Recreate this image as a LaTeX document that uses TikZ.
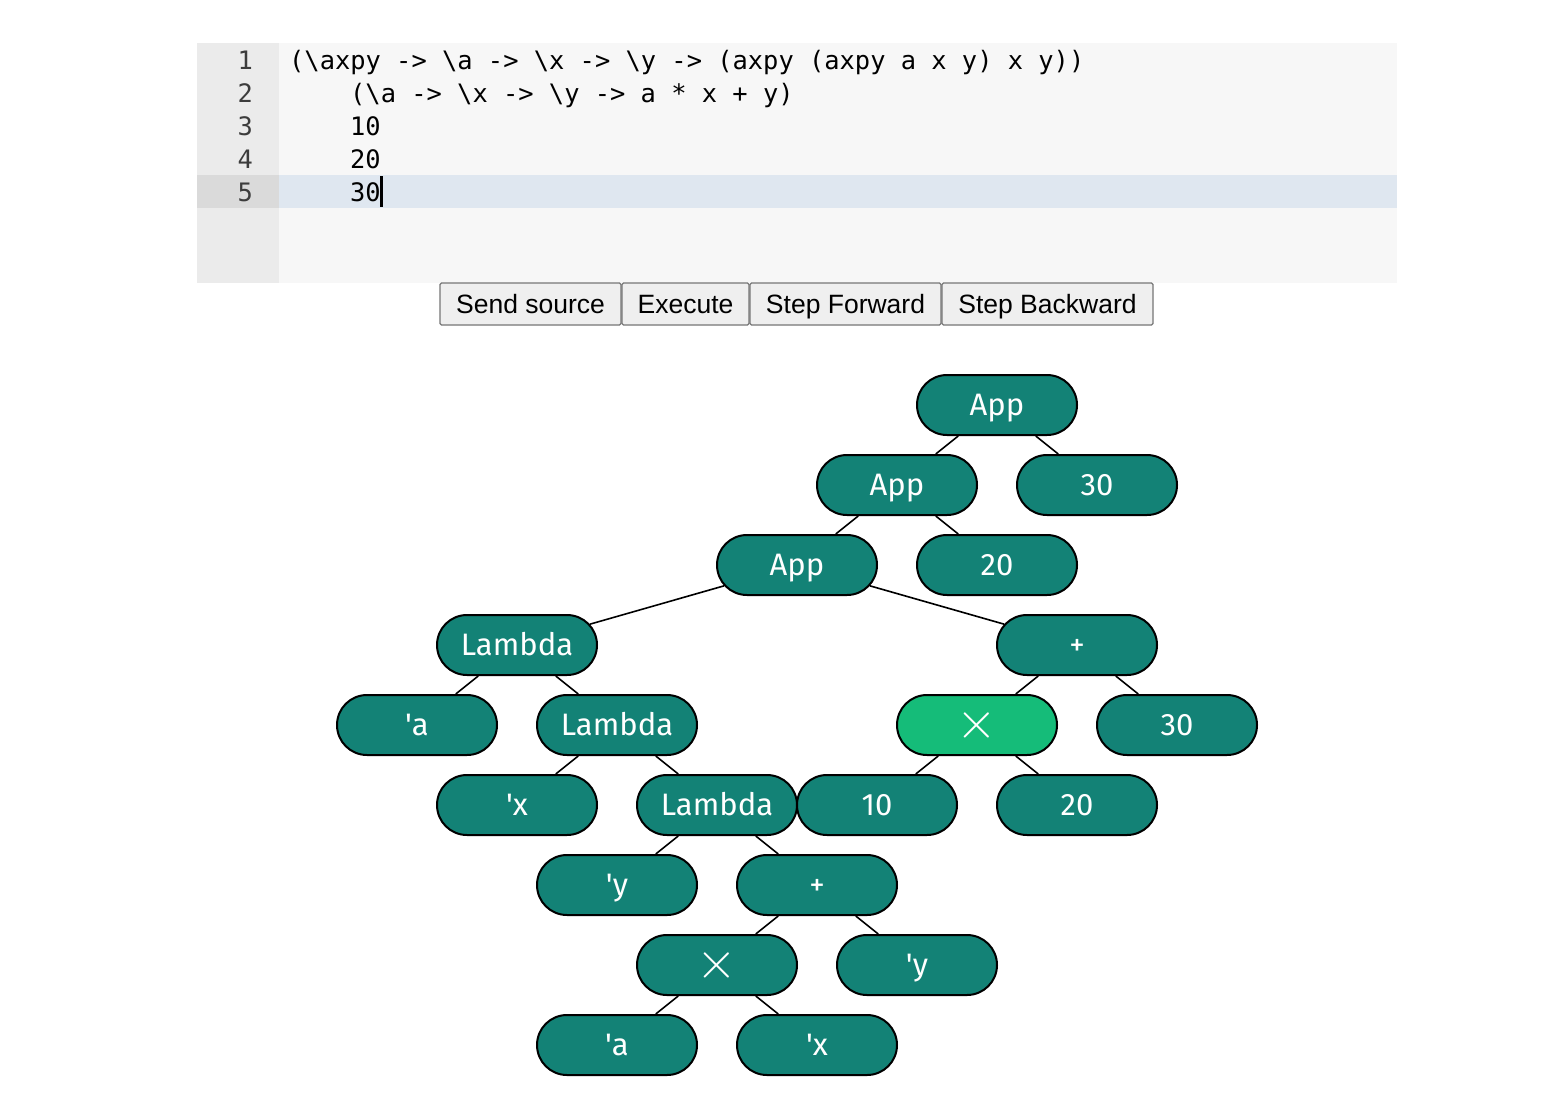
\documentclass[tikz,border=0pt]{standalone}
\usepackage{fontspec}
\usepackage{graphicx}
\setmainfont{Fira Sans}
\newfontfamily\codefont{DejaVu Sans Mono}
\newfontfamily\btnfont{Liberation Sans}
\usetikzlibrary{shapes.misc}
\definecolor{teal1}{RGB}{19,130,118}
\definecolor{green1}{RGB}{21,188,121}
\definecolor{editorbg}{RGB}{247,247,247}
\definecolor{guttbg}{RGB}{235,235,235}
\definecolor{activeline}{RGB}{223,231,240}
\definecolor{activegut}{RGB}{218,218,218}
\definecolor{lnumcol}{RGB}{60,60,60}
\definecolor{btnborder}{RGB}{118,118,118}
\definecolor{btnfill}{RGB}{239,239,239}
\tikzset{
  lnum/.style={anchor=base east, inner sep=0pt, font=\codefont\fontsize{25.4}{25.4}\selectfont, text=lnumcol},
  codeline/.style={anchor=base west, inner sep=0pt, font=\codefont\fontsize{25.4}{25.4}\selectfont, text=black},
  btn/.style={rectangle, rounded corners=1.5pt, draw=btnborder, line width=1.3pt, fill=btnfill, minimum height=42pt, inner sep=0pt, text height=19pt, text depth=0pt, font=\btnfont\fontsize{26.5}{26.5}\selectfont, text=black},
  tbase/.style={rounded rectangle, draw=black, line width=2pt, fill=teal1, text=white, minimum width=160pt, minimum height=60pt, inner sep=0pt, font=\fontsize{31}{31}\selectfont},
  tnode/.style={tbase, text height=21.4pt, text depth=0pt},
  mulnode/.style={tbase},
  hinode/.style={tbase, fill=green1},
  edge/.style={draw=black, line width=1.6pt},
}
\newcommand{\mytimes}{\scalebox{2.1}{$\times$}}
\newcommand{\q}{\textquotesingle}
\begin{document}
\begin{tikzpicture}[x=1pt,y=-1pt]
\useasboundingbox (0,0) rectangle (1553,1119);
\fill[white] (0,0) rectangle (1553,1119);
% editor
\fill[editorbg] (197,43) rectangle (1397,283);
\fill[guttbg] (197,43) rectangle (279,283);
\fill[activeline] (279,175) rectangle (1397,208);
\fill[activegut] (197,175) rectangle (279,208);
\node[lnum] (l1) at (253,69) {1};
\node[lnum] (l2) at (253,102) {2};
\node[lnum] (l3) at (253,135) {3};
\node[lnum] (l4) at (253,168) {4};
\node[lnum] (l5) at (253,201) {5};
\node[codeline] (c1) at (289,69) {(\textbackslash axpy -> \textbackslash a -> \textbackslash x -> \textbackslash y -> (axpy (axpy a x y) x y))};
\node[codeline] (c2) at (350,102) {(\textbackslash a -> \textbackslash x -> \textbackslash y -> a * x + y)};
\node[codeline] (c3) at (350,135) {10};
\node[codeline] (c4) at (350,168) {20};
\node[codeline] (c5) at (350,201) {30};
\fill[black] (379.5,176) rectangle (382.5,207);
% buttons
\node[btn, minimum width=181pt] (b1) at (530.5,304) {Send source};
\node[btn, minimum width=127pt] (b2) at (685.5,304) {Execute};
\node[btn, minimum width=191pt] (b3) at (845.5,304) {Step Forward};
\node[btn, minimum width=211pt] (b4) at (1047.5,304) {Step Backward};
% tree
\node[tnode] (app1) at (997,405) {App};
\node[tnode] (app2) at (897,485) {App};
\node[tnode] (n30a) at (1097,485) {30};
\node[tnode] (app3) at (797,565) {App};
\node[tnode] (n20a) at (997,565) {20};
\node[tnode] (lam1) at (517,645) {Lambda};
\node[tnode] (plus1) at (1077,645) {+};
\node[tnode] (va1) at (417,725) {\q a};
\node[tnode] (lam2) at (617,725) {Lambda};
\node[hinode] (mul1) at (977,725) {\mytimes};
\node[tnode] (n30b) at (1177,725) {30};
\node[tnode] (vx1) at (517,805) {\q x};
\node[tnode] (lam3) at (717,805) {Lambda};
\node[tnode] (n10) at (877,805) {10};
\node[tnode] (n20b) at (1077,805) {20};
\node[tnode] (vy1) at (617,885) {\q y};
\node[tnode] (plus2) at (817,885) {+};
\node[mulnode] (mul2) at (717,965) {\mytimes};
\node[tnode] (vy2) at (917,965) {\q y};
\node[tnode] (va2) at (617,1045) {\q a};
\node[tnode] (vx2) at (817,1045) {\q x};
% edges
\draw[edge] (app1) -- (app2);
\draw[edge] (app1) -- (n30a);
\draw[edge] (app2) -- (app3);
\draw[edge] (app2) -- (n20a);
\draw[edge] (app3) -- (lam1);
\draw[edge] (app3) -- (plus1);
\draw[edge] (lam1) -- (va1);
\draw[edge] (lam1) -- (lam2);
\draw[edge] (plus1) -- (mul1);
\draw[edge] (plus1) -- (n30b);
\draw[edge] (lam2) -- (vx1);
\draw[edge] (lam2) -- (lam3);
\draw[edge] (mul1) -- (n10);
\draw[edge] (mul1) -- (n20b);
\draw[edge] (lam3) -- (vy1);
\draw[edge] (lam3) -- (plus2);
\draw[edge] (plus2) -- (mul2);
\draw[edge] (plus2) -- (vy2);
\draw[edge] (mul2) -- (va2);
\draw[edge] (mul2) -- (vx2);
\end{tikzpicture}
\end{document}
